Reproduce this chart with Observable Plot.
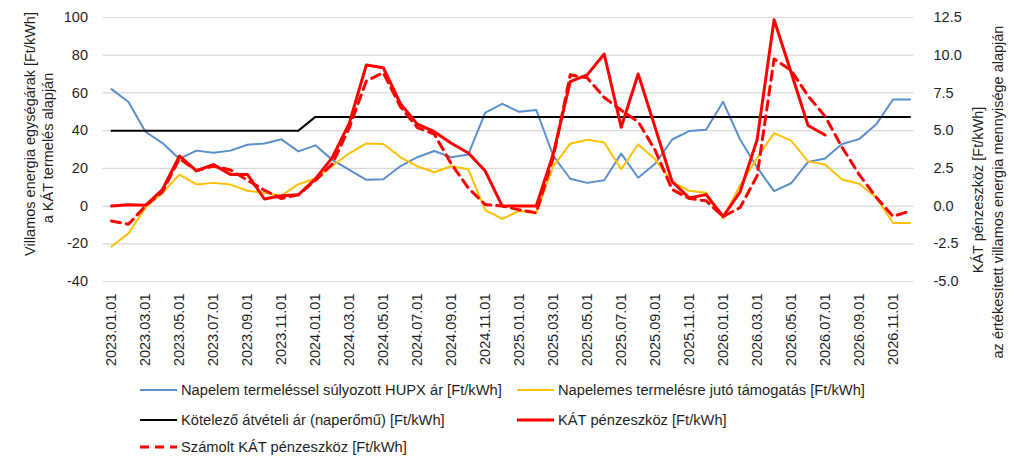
<!DOCTYPE html>
<html>
<head>
<meta charset="utf-8">
<script src="https://cdn.jsdelivr.net/npm/d3@7"></script>
<script src="https://cdn.jsdelivr.net/npm/@observablehq/plot@0.6"></script>
<style>
  html, body { margin: 0; padding: 0; background: #fff; }
  #wrap { position: relative; width: 1024px; height: 468px; overflow: hidden; font-family: "Liberation Sans", Arial, sans-serif; color: #1f1f1f; }
  #chart { position: absolute; left: 0; top: 0; }
  .ytitle { position: absolute; white-space: nowrap; font-size: 14.5px; transform: translate(-50%, -50%) rotate(-90deg); line-height: 1; }
  .leg { position: absolute; display: flex; align-items: center; font-size: 14.7px; white-space: nowrap; }
  .leg svg { margin-right: 4px; }
</style>
</head>
<body>
<div id="wrap">
  <div id="chart"></div>
</div>
<script>
// Categories: monthly from 2023.01 to 2026.12
const years = [2023, 2024, 2025, 2026];
const monthNums = ["01","02","03","04","05","06","07","08","09","10","11","12"];
const months = years.flatMap(y => monthNums.map(m => `${y}.${m}.01`));
const tickLabels = months.filter((d, i) => i % 2 === 0);

// Left axis series [Ft/kWh]
const hupx = [62, 55.2, 39.4, 33.4, 25, 29.4, 28.3, 29.4, 32.5, 33.2, 35.4, 29,
  32.2, 24.5, 19.2, 13.9, 14.2, 21.1, 25.9, 29.2, 25.9, 27.4, 49.6, 54.2,
  50, 51, 26.7, 14.5, 12.3, 13.7, 27.8, 15, 22.4, 35.3, 39.8, 40.5,
  55.3, 35.3, 20.5, 7.9, 12.1, 23.4, 25.2, 32.9, 35.5, 43.2, 56.5, 56.5];
const tamogatas = [-21.4, -14.5, -0.8, 6.9, 16.7, 11.5, 12.3, 11.4, 8.1, 7.1, 5.5, 11.6,
  14.6, 21.3, 28, 33.2, 32.9, 26, 21.1, 17.9, 21.1, 19.5, -2.2, -6.8,
  -2.6, -3.8, 21.1, 33.1, 35.2, 33.7, 19.5, 32.7, 24.8, 13, 8.1, 7.1,
  -6.5, 11, 25.5, 38.7, 34.7, 23.7, 22, 14.1, 11.8, 4.7, -9, -9];
const katAr = [40, 40, 40, 40, 40, 40, 40, 40, 40, 40, 40, 40,
  47.3, 47.3, 47.3, 47.3, 47.3, 47.3, 47.3, 47.3, 47.3, 47.3, 47.3, 47.3,
  47.3, 47.3, 47.3, 47.3, 47.3, 47.3, 47.3, 47.3, 47.3, 47.3, 47.3, 47.3,
  47.3, 47.3, 47.3, 47.3, 47.3, 47.3, 47.3, 47.3, 47.3, 47.3, 47.3, 47.3];

// Right axis series [Ft/kWh]
const katPenz = [0, 0.08, 0.05, 1.1, 3.32, 2.34, 2.75, 2.1, 2.1, 0.47, 0.68, 0.75,
  1.8, 3.23, 5.5, 9.35, 9.17, 6.8, 5.43, 4.93, 4.16, 3.52, 2.32, 0,
  0, 0, 3.45, 8.25, 8.7, 10.08, 5.23, 8.76, 5.2, 1.62, 0.54, 0.76,
  -0.69, 0.94, 4.4, 12.35, 8.87, 5.34, 4.71, null, null, null, null, null];
const szamolt = [-0.99, -1.2, 0, 0.95, 3.15, 2.35, 2.65, 2.4, 1.72, 1.05, 0.5, 0.75,
  1.7, 2.8, 5.2, 8.3, 8.84, 6.6, 5.2, 4.77, 2.8, 1.2, 0.1, 0,
  -0.25, -0.45, 3.2, 8.7, 8.5, 7.2, 6.35, 5.6, 3.7, 1.1, 0.5, 0.35,
  -0.7, -0.1, 2.0, 9.75, 9.0, 7.3, 5.95, 3.9, 2.1, 0.6, -0.68, -0.33];

const leftTicks = [-40, -20, 0, 20, 40, 60, 80, 100];
const rightFactor = 8; // right axis -5..12.5 maps onto left -40..100

const names = {
  hupx: "Napelem termeléssel súlyozott HUPX ár [Ft/kWh]",
  tam: "Napelemes termelésre jutó támogatás [Ft/kWh]",
  kat: "Kötelező átvételi ár (naperőmű) [Ft/kWh]",
  penz: "KÁT pénzeszköz [Ft/kWh]",
  szam: "Számolt KÁT pénzeszköz [Ft/kWh]"
};
const colors = { hupx: "#5b8fcb", tam: "#ffc000", kat: "#000000", penz: "#ff0000", szam: "#ff0000" };

const toRows = (arr, scale = 1) => months.map((m, i) => ({ m, v: arr[i] == null ? null : arr[i] * scale })).filter(d => d.v != null);

const font = "'Liberation Sans', Arial, sans-serif";
const chart = Plot.plot({
  width: 1024,
  height: 372,
  marginLeft: 102.5,
  marginRight: 110.5,
  marginTop: 17,
  marginBottom: 91,
  style: { fontFamily: font, fontSize: "14.5px", color: "#1f1f1f", background: "transparent" },
  x: { type: "point", domain: months, range: [111, 909.5], padding: 0 },
  y: { domain: [-40, 100], range: [281, 17] },
  marks: [
    Plot.gridY(leftTicks, { stroke: "#d9d9d9", strokeOpacity: 1, strokeWidth: 1.2 }),
    Plot.axisY(leftTicks, { anchor: "left", tickSize: 0, tickPadding: 15, label: null, fontSize: 14.5,
      tickFormat: d => String(d) }),
    Plot.axisY(leftTicks, { anchor: "right", tickSize: 0, tickPadding: 19.5, label: null, fontSize: 14.5,
      tickFormat: d => (d / rightFactor).toFixed(1) }),
    Plot.axisX(tickLabels, { anchor: "bottom", tickSize: 0, tickPadding: 12, tickRotate: -90, label: null, fontSize: 14.5 }),
    Plot.line(toRows(hupx), { x: "m", y: "v", stroke: colors.hupx, strokeWidth: 2 }),
    Plot.line(toRows(tamogatas), { x: "m", y: "v", stroke: colors.tam, strokeWidth: 2 }),
    Plot.line(toRows(katAr), { x: "m", y: "v", stroke: colors.kat, strokeWidth: 2 }),
    Plot.line(toRows(katPenz, rightFactor), { x: "m", y: "v", stroke: colors.penz, strokeWidth: 3 }),
    Plot.line(toRows(szamolt, rightFactor), { x: "m", y: "v", stroke: colors.szam, strokeWidth: 3, strokeDasharray: "9,6" })
  ]
});
document.getElementById("chart").appendChild(chart);

const wrap = document.getElementById("wrap");
function addTitle(text, x, y) {
  const d = document.createElement("div");
  d.className = "ytitle";
  d.textContent = text;
  d.style.left = x + "px";
  d.style.top = y + "px";
  wrap.appendChild(d);
}
addTitle("Villamos energia egységárak [Ft/kWh]", 30, 134);
addTitle("a KÁT termelés alapján", 48, 148);
addTitle("KÁT pénzeszköz [Ft/kWh]", 978, 190);
addTitle("az  értékesített villamos energia mennyisége alapján", 998, 192);

function addLegend(key, x, y, dashed) {
  const d = document.createElement("div");
  d.className = "leg";
  d.style.left = x + "px";
  d.style.top = (y - 10) + "px";
  d.style.height = "20px";
  const w = 37;
  const sw = key === "penz" || key === "szam" ? 3 : 2;
  d.innerHTML = `<svg width="${w}" height="10"><line x1="0" x2="${w}" y1="5" y2="5" stroke="${colors[key]}" stroke-width="${sw}" ${dashed ? 'stroke-dasharray="9,6"' : ''}/></svg><span>${names[key]}</span>`;
  wrap.appendChild(d);
}
addLegend("hupx", 140, 390);
addLegend("tam", 517, 390);
addLegend("kat", 140, 420);
addLegend("penz", 517, 420);
addLegend("szam", 140, 447, true);
</script>
</body>
</html>
